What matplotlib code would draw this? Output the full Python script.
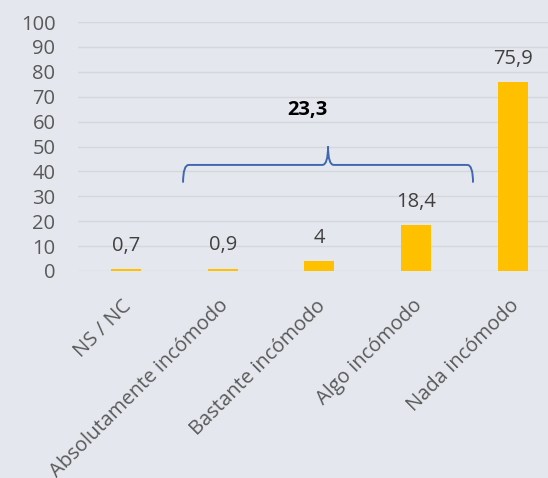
import numpy as np
import matplotlib.pyplot as plt
import matplotlib.transforms as mtransforms
from matplotlib.path import Path
from matplotlib.patches import PathPatch

categories = ['NS / NC', 'Absolutamente incómodo', 'Bastante incómodo',
              'Algo incómodo', 'Nada incómodo']
values = [0.7, 0.9, 4, 18.4, 75.9]
value_labels = ['0,7', '0,9', '4', '18,4', '75,9']
group_label = '23,3'
group_span = (1, 3)  # categories under the brace

bg = '#e4e8ee'
plt.rcParams['font.family'] = ['Open Sans', 'DejaVu Sans']
fs = 14.5

fig = plt.figure(figsize=(5.48, 4.78), dpi=100, facecolor=bg)
ax = fig.add_axes([77.6 / 548, 1 - 271 / 478, 483.75 / 548, 249 / 478])
ax.set_facecolor(bg)

x = np.arange(len(categories))
ax.bar(x, values, width=0.31, color='#ffc000', zorder=3)
for xi, v, lab in zip(x, values, value_labels):
    ax.text(xi, v + 7.4, lab, ha='center', va='baseline', fontsize=fs,
            color='#404040')

ax.set_xlim(-0.5, len(categories) - 0.5)
ax.set_ylim(0, 100)
ax.set_yticks(range(0, 101, 10))
ax.grid(axis='y', color='#d4d7dc', linewidth=1, zorder=0)
for s in ax.spines.values():
    s.set_visible(False)
ax.tick_params(length=0, labelsize=fs, labelcolor='#595959')
ax.tick_params(axis='y', pad=16)
ax.set_xticks(x)
ax.set_xticklabels(categories, rotation=45, ha='right', rotation_mode='anchor')
off = mtransforms.ScaledTranslation(-4 / 100, -20 / 100, fig.dpi_scale_trans)
for t in ax.get_xticklabels():
    t.set_transform(t.get_transform() + off)

# curly brace over the grouped categories
x0 = group_span[0] - 0.41
x1 = group_span[1] + 0.587
xm = (x0 + x1) / 2
y_end, y_line, y_tip = 35.5, 42.6, 50
r = 0.06
verts = [(x0, y_end), (x0, y_line), (x0 + r, y_line),
         (xm - r, y_line), (xm, y_line), (xm, y_tip),
         (xm, y_line), (xm + r, y_line),
         (x1 - r, y_line), (x1, y_line), (x1, y_end)]
codes = [Path.MOVETO, Path.CURVE3, Path.CURVE3,
         Path.LINETO, Path.CURVE3, Path.CURVE3,
         Path.CURVE3, Path.CURVE3,
         Path.LINETO, Path.CURVE3, Path.CURVE3]
ax.add_patch(PathPatch(Path(verts, codes), fill=False, edgecolor='#4067b0',
                       linewidth=1.4, zorder=4))
ax.text(1.88, 64.7, group_label, ha='center', va='center', fontsize=fs,
        fontweight='bold', color='black')

fig.savefig('out.png', dpi=100, facecolor=bg)
